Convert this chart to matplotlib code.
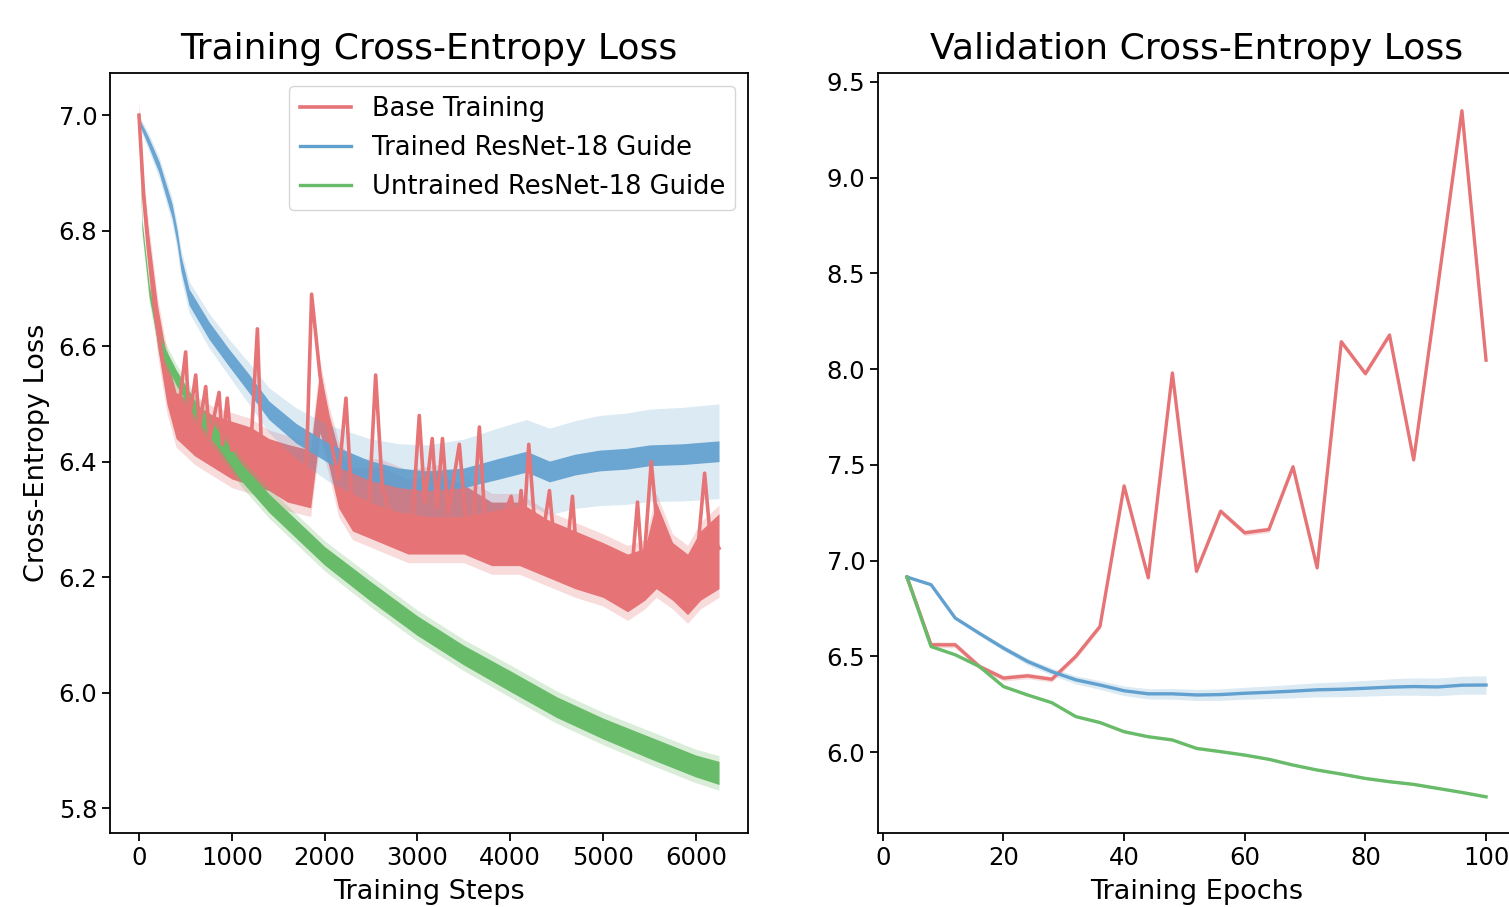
import numpy as np
import matplotlib.pyplot as plt

# colours of the three runs (tab colours seen through alpha ~0.7)
RED = '#e67476'
BLUE = '#62a0cf'
GREEN = '#68bb68'

# ---- training loss ----
# base training: centre line (with the visible spikes) and noise envelope
red_steps = [0, 50, 100, 180, 270, 350, 420, 503, 540, 611, 650, 719, 760, 863, 900, 951,
             1000, 1100, 1200, 1276, 1320, 1400, 1500, 1600, 1700, 1800, 1860, 1950, 2050,
             2150, 2230, 2290, 2400, 2480, 2550, 2620, 2700, 2850, 2950, 3020, 3080, 3160,
             3210, 3270, 3330, 3452, 3520, 3600, 3668, 3730, 3850, 4010, 4080, 4117, 4150,
             4200, 4260, 4350, 4423, 4480, 4600, 4671, 4720, 4850, 5000, 5150, 5300, 5372,
             5430, 5520, 5600, 5700, 5800, 5900, 6000, 6095, 6150, 6250]
red_loss = [7.00, 6.86, 6.77, 6.65, 6.56, 6.50, 6.48, 6.59, 6.47, 6.55, 6.46, 6.53, 6.44, 6.52,
            6.43, 6.51, 6.42, 6.43, 6.41, 6.63, 6.42, 6.41, 6.39, 6.38, 6.37, 6.37, 6.69, 6.55,
            6.45, 6.37, 6.51, 6.34, 6.33, 6.33, 6.55, 6.36, 6.31, 6.30, 6.31, 6.48, 6.33, 6.44,
            6.32, 6.44, 6.31, 6.43, 6.30, 6.29, 6.46, 6.29, 6.27, 6.34, 6.28, 6.35, 6.29, 6.43,
            6.30, 6.27, 6.35, 6.25, 6.23, 6.34, 6.23, 6.22, 6.21, 6.20, 6.19, 6.33, 6.20, 6.40,
            6.26, 6.23, 6.20, 6.19, 6.21, 6.38, 6.28, 6.25]
red_env_steps = [0, 50, 100, 200, 300, 400, 600, 800, 1000, 1200, 1400, 1600, 1850, 1950, 2050,
                 2150, 2300, 2600, 2900, 3200, 3500, 3800, 4100, 4400, 4700, 5000, 5265, 5450,
                 5574, 5750, 5911, 6050, 6250]
red_lo = [6.99, 6.83, 6.74, 6.60, 6.50, 6.44, 6.41, 6.39, 6.37, 6.36, 6.35, 6.33, 6.32, 6.45, 6.39,
          6.32, 6.28, 6.26, 6.24, 6.24, 6.24, 6.22, 6.22, 6.20, 6.18, 6.165, 6.14, 6.16, 6.18,
          6.16, 6.135, 6.16, 6.18]
red_hi = [7.01, 6.88, 6.80, 6.67, 6.58, 6.52, 6.50, 6.48, 6.47, 6.46, 6.44, 6.43, 6.42, 6.56, 6.48,
          6.42, 6.39, 6.39, 6.37, 6.38, 6.36, 6.33, 6.33, 6.30, 6.28, 6.26, 6.24, 6.25, 6.33,
          6.26, 6.24, 6.28, 6.31]

# trained ResNet-18 guide: centre, noise half width, spread between runs
blue_steps = [0, 100, 216, 356, 410, 453, 540, 755, 970, 1187, 1400, 1694, 2050, 2481, 2800,
              3100, 3500, 3883, 4175, 4423, 4700, 4962, 5250, 5502, 5858, 6250]
blue_loss = [6.99, 6.955, 6.91, 6.835, 6.79, 6.743, 6.685, 6.627, 6.58, 6.535, 6.489, 6.449,
             6.414, 6.385, 6.372, 6.367, 6.372, 6.388, 6.400, 6.383, 6.395, 6.402, 6.405,
             6.411, 6.413, 6.418]
blue_noise = [0.005, 0.008, 0.010, 0.012, 0.012, 0.013, 0.014, 0.015, 0.015, 0.016, 0.016,
              0.017, 0.017, 0.017, 0.017, 0.017, 0.017, 0.018, 0.018, 0.018, 0.018, 0.018,
              0.018, 0.018, 0.018, 0.018]
blue_spread = [0.005, 0.006, 0.008, 0.010, 0.011, 0.012, 0.013, 0.015, 0.017, 0.020, 0.023,
               0.027, 0.032, 0.038, 0.042, 0.045, 0.050, 0.053, 0.055, 0.057, 0.058, 0.060,
               0.061, 0.062, 0.063, 0.064]

# untrained ResNet-18 guide
green_steps = [0, 32, 108, 216, 400, 615, 863, 1111, 1402, 2000, 2500, 3000, 3500, 4000, 4500,
               5000, 5500, 6000, 6250]
green_loss = [6.99, 6.81, 6.697, 6.605, 6.546, 6.489, 6.437, 6.38, 6.328, 6.237, 6.175, 6.116,
              6.065, 6.02, 5.975, 5.938, 5.905, 5.873, 5.861]
green_noise = [0.005, 0.008, 0.010, 0.012, 0.013, 0.014, 0.015, 0.015, 0.016, 0.016, 0.017,
               0.017, 0.017, 0.018, 0.018, 0.018, 0.019, 0.019, 0.02]

# ---- validation loss ----
epochs = [4, 8, 12, 16, 20, 24, 28, 32, 36, 40, 44, 48, 52, 56, 60, 64, 68, 72, 76, 80, 84,
          88, 92, 96, 100]
val_base = [6.914, 6.56, 6.56, 6.447, 6.386, 6.398, 6.38, 6.50, 6.656, 7.39, 6.91, 7.98, 6.944,
            7.258, 7.145, 7.162, 7.49, 6.962, 8.143, 7.977, 8.178, 7.526, 8.43, 9.35, 8.047]
val_trained = [6.914, 6.874, 6.70, 6.62, 6.543, 6.473, 6.42, 6.377, 6.35, 6.32, 6.304, 6.304,
               6.298, 6.30, 6.307, 6.312, 6.318, 6.325, 6.328, 6.333, 6.339, 6.342, 6.34,
               6.349, 6.35]
val_untrained = [6.914, 6.551, 6.508, 6.447, 6.342, 6.298, 6.258, 6.185, 6.154, 6.106, 6.08,
                 6.063, 6.019, 6.002, 5.984, 5.962, 5.932, 5.906, 5.885, 5.862, 5.845, 5.831,
                 5.81, 5.789, 5.766]
val_trained_sd = [0.003, 0.005, 0.008, 0.011, 0.014, 0.017, 0.019, 0.021, 0.023, 0.025, 0.027,
                  0.028, 0.029, 0.030, 0.031, 0.033, 0.035, 0.037, 0.039, 0.041, 0.043, 0.045,
                  0.046, 0.047, 0.048]

plt.rcParams['font.size'] = 17.5
plt.rcParams['axes.labelsize'] = 19.5
plt.rcParams['legend.fontsize'] = 18.5
plt.rcParams['axes.linewidth'] = 1.3
plt.rcParams['xtick.major.width'] = 1.3
plt.rcParams['ytick.major.width'] = 1.3
plt.rcParams['xtick.major.size'] = 5.6
plt.rcParams['ytick.major.size'] = 5.6

W, H = 1509, 907
fig = plt.figure(figsize=(W / 100, H / 100), dpi=100)
ax1 = fig.add_axes([110 / W, (H - 833) / H, 638 / W, 760 / H])
ax2 = fig.add_axes([878 / W, (H - 833) / H, 637 / W, 760 / H])

# --- left panel ---
rs = np.array(red_env_steps)
ax1.fill_between(rs, np.array(red_lo) - 0.015, np.array(red_hi) + 0.015, color=RED, alpha=0.25, lw=0)
ax1.fill_between(rs, red_lo, red_hi, color=RED, lw=0)
ax1.plot(red_steps, red_loss, color=RED, lw=2.6, label='Base Training')

bs, bl = np.array(blue_steps), np.array(blue_loss)
bn, bsp = np.array(blue_noise), np.array(blue_spread)
ax1.fill_between(bs, bl - bn - bsp, bl + bn + bsp, color=BLUE, alpha=0.22, lw=0)
ax1.fill_between(bs, bl - bn, bl + bn, color=BLUE, alpha=0.92, lw=0)
ax1.plot([], [], color=BLUE, lw=2.4, label='Trained ResNet-18 Guide')

gs, gl, gn = np.array(green_steps), np.array(green_loss), np.array(green_noise)
ax1.fill_between(gs, gl - gn - 0.01, gl + gn + 0.01, color=GREEN, alpha=0.25, lw=0)
ax1.fill_between(gs, gl - gn, gl + gn, color=GREEN, lw=0)
ax1.plot([], [], color=GREEN, lw=2.4, label='Untrained ResNet-18 Guide')

ax1.set_xlim(-312.5, 6562.5)
ax1.set_ylim(5.757, 7.073)
ax1.set_yticks([5.8, 6.0, 6.2, 6.4, 6.6, 6.8, 7.0])
ax1.set_xticks([0, 1000, 2000, 3000, 4000, 5000, 6000])
ax1.set_title('Training Cross-Entropy Loss', fontsize=26, pad=10)
ax1.set_xlabel('Training Steps', labelpad=7)
ax1.set_ylabel('Cross-Entropy Loss', labelpad=6)
ax1.legend(loc='upper right')

# --- right panel ---
ep = np.array(epochs)
ax2.fill_between(ep, np.array(val_base) - 0.015, np.array(val_base) + 0.015, color=RED, alpha=0.25, lw=0)
ax2.plot(ep, val_base, color=RED, lw=2.4)
vt, vsd = np.array(val_trained), np.array(val_trained_sd)
ax2.fill_between(ep, vt - vsd, vt + vsd, color=BLUE, alpha=0.22, lw=0)
ax2.plot(ep, vt, color=BLUE, lw=2.4)
vu = np.array(val_untrained)
ax2.fill_between(ep, vu - 0.006, vu + 0.006, color=GREEN, alpha=0.25, lw=0)
ax2.plot(ep, vu, color=GREEN, lw=2.4)

ax2.set_xlim(-0.8, 104.8)
ax2.set_ylim(5.577, 9.547)
ax2.set_yticks([6.0, 6.5, 7.0, 7.5, 8.0, 8.5, 9.0, 9.5])
ax2.set_xticks([0, 20, 40, 60, 80, 100])
ax2.set_title('Validation Cross-Entropy Loss', fontsize=26, pad=10)
ax2.set_xlabel('Training Epochs', labelpad=7)

fig.savefig('out.png', dpi=100)
